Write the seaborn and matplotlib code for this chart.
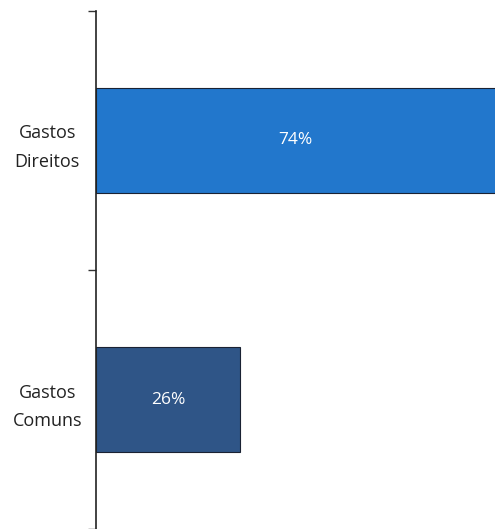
import matplotlib
matplotlib.use("Agg")
import matplotlib.pyplot as plt
import pandas as pd
import seaborn as sns

categories = ["Gastos\nDireitos", "Gastos\nComuns"]
shares = [74, 26]
bar_colors = ["#2277cc", "#2f5587"]

sns.set_style("white")
plt.rcParams["font.family"] = ["Open Sans", "DejaVu Sans"]

df = pd.DataFrame({"categoria": categories, "pct": shares})

fig = plt.figure(figsize=(4.95, 5.29), dpi=100)
ax = fig.add_axes([96 / 495, 0, 1 - 96 / 495, (529 - 11) / 529])

sns.barplot(
    data=df, x="pct", y="categoria", hue="categoria",
    palette=bar_colors, saturation=1, orient="h", width=0.405,
    edgecolor="#1a2233", linewidth=0.8, legend=False, ax=ax,
)

for cont in ax.containers:
    ax.bar_label(cont, labels=[f"{v:.0f}%" for v in cont.datavalues],
                 label_type="center", color="white", fontsize=12.5)

ax.set_xlim(0, 72)
ax.set_ylim(1.5, -0.5)
ax.set_xlabel("")
ax.set_ylabel("")
ax.set_xticks([])
ax.set_yticks([-0.5, 0.5, 1.5], minor=True)
ax.tick_params(axis="y", which="major", length=0, labelsize=13, colors="#222222")
ax.tick_params(axis="y", which="minor", length=6, width=1, color="#333333", left=True)
for lbl in ax.get_yticklabels():
    lbl.set_horizontalalignment("center")
    lbl.set_x(-0.11)
    lbl.set_linespacing(1.75)

for side in ["top", "right", "bottom"]:
    ax.spines[side].set_visible(False)
ax.spines["left"].set_color("#222222")
ax.spines["left"].set_linewidth(1.2)

fig.savefig("out.png", dpi=100)
